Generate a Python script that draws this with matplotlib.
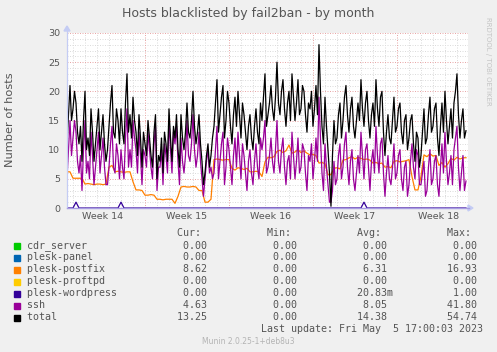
import numpy as np
import matplotlib
matplotlib.use("Agg")
import matplotlib.pyplot as plt
from matplotlib.patches import Rectangle, Polygon
from matplotlib.lines import Line2D

W, H = 497, 352

# plesk-postfix, one sample every 6 hours (0.25 day)
postfix = [6.2, 6.2, 5.1, 5.1, 5.1, 5.1, 4.1, 4.2, 4.1, 4.0, 4.1, 4.1, 4.0, 4.1,
           7.0, 7.3, 6.2, 6.3, 6.2, 6.1, 6.2, 6.2, 4.5, 3.1, 3.1, 3.0, 2.2, 2.2,
           2.3, 2.2, 1.5, 1.5, 1.4, 1.5, 1.5, 1.5, 0.8, 2.0, 3.6, 3.7, 3.6, 3.6,
           3.7, 3.6, 3.0, 3.0, 1.0, 1.0, 1.5, 8.3, 8.4, 8.3, 8.2, 8.3, 8.3, 6.8,
           6.5, 6.9, 6.8, 6.6, 6.8, 6.2, 6.2, 6.3, 6.2, 5.4, 7.9, 8.7, 8.6, 8.8,
           9.7, 9.9, 9.5, 9.8, 10.8, 9.4, 9.6, 10.0, 9.5, 9.8, 9.4, 9.1, 9.2, 9.0,
           7.7, 7.8, 7.6, 5.7, 5.7, 6.8, 6.9, 6.7, 8.2, 8.3, 8.6, 8.8, 8.4, 8.7,
           8.5, 8.3, 8.4, 8.2, 7.7, 7.8, 7.6, 7.7, 7.0, 7.1, 6.9, 8.0, 8.1, 7.9,
           8.0, 8.1, 8.3, 5.4, 3.1, 3.1, 5.4, 9.1, 8.8, 9.3, 8.9, 9.0, 7.3, 7.8,
           7.0, 7.6, 8.5, 8.2, 8.7, 8.4, 8.6, 8.62]

wordpress_spikes = [3, 18, 99]   # 6-hour samples where plesk-wordpress reaches 1

# ssh and total, one sample every 3 hours (0.125 day)
ssh = [5, 10, 15, 9, 12, 15, 13, 8, 6, 9, 3, 10, 15, 6, 8, 5,
       13, 9, 4, 7, 10, 13, 6, 9, 12, 7, 4, 4, 7, 11, 14, 7,
       6, 11, 9, 5, 10, 7, 5, 12, 17, 7, 10, 7, 15, 12, 10, 6,
       13, 9, 4, 10, 9, 7, 13, 10, 7, 5, 11, 14, 3, 7, 7, 10,
       4, 11, 9, 6, 15, 10, 6, 13, 11, 14, 8, 4, 12, 8, 6, 9,
       15, 9, 8, 11, 16, 10, 7, 9, 13, 8, 5, 2, 5, 8, 10, 6,
       7, 5, 6, 10, 14, 5, 8, 11, 13, 4, 7, 12, 10, 7, 4, 9,
       12, 7, 13, 9, 5, 11, 9, 6, 3, 8, 10, 6, 4, 8, 11, 7,
       5, 12, 10, 12, 15, 6, 7, 9, 12, 8, 6, 10, 15, 8, 6, 10,
       12, 7, 4, 8, 9, 5, 13, 9, 5, 8, 12, 6, 7, 11, 10, 6,
       3, 9, 8, 11, 5, 8, 12, 8, 19, 12, 6, 3, 11, 7, 4, 1,
       1, 3, 8, 4, 5, 9, 11, 5, 7, 11, 13, 7, 4, 8, 10, 5,
       3, 6, 9, 6, 13, 9, 5, 10, 11, 7, 3, 8, 10, 6, 14, 9,
       6, 11, 12, 6, 2, 6, 9, 5, 4, 7, 11, 5, 6, 9, 10, 5,
       3, 7, 8, 2, 4, 8, 11, 7, 5, 10, 9, 4, 4, 6, 8, 2,
       3, 7, 10, 4, 5, 8, 9, 4, 2, 7, 11, 6, 13, 8, 4, 6,
       9, 4, 10, 12, 14, 7, 3, 6, 9, 3, 4.63]

total = [11, 16, 21, 15, 17, 20, 18, 13, 11, 14, 8, 15, 20, 10, 12, 9,
         17, 13, 8, 11, 14, 17, 10, 13, 16, 11, 8, 10, 14, 18, 21, 13,
         12, 17, 15, 11, 17, 13, 11, 18, 23, 13, 16, 12, 19, 15, 13, 9,
         16, 12, 7, 13, 11, 9, 15, 12, 9, 7, 13, 16, 5, 9, 8, 12,
         6, 13, 11, 8, 17, 12, 8, 14, 12, 16, 10, 7, 16, 12, 10, 13,
         18, 13, 12, 15, 20, 14, 11, 13, 16, 11, 8, 4, 6, 9, 11, 7,
         9, 12, 14, 18, 22, 13, 16, 19, 21, 12, 15, 20, 18, 14, 11, 16,
         19, 14, 20, 16, 12, 18, 16, 13, 10, 14, 16, 12, 10, 14, 17, 13,
         11, 18, 15, 19, 23, 14, 16, 18, 21, 17, 15, 19, 25, 18, 16, 20,
         22, 17, 14, 18, 20, 15, 23, 19, 15, 18, 22, 16, 17, 21, 20, 16,
         13, 18, 17, 20, 14, 17, 21, 16, 28, 20, 14, 11, 19, 14, 10, 6,
         0.3, 9, 15, 11, 12, 16, 18, 12, 15, 19, 21, 16, 13, 17, 19, 14,
         12, 15, 18, 15, 22, 17, 14, 18, 20, 15, 12, 16, 18, 14, 22, 17,
         14, 19, 20, 13, 9, 13, 16, 12, 11, 15, 19, 13, 14, 17, 18, 13,
         11, 15, 16, 10, 12, 15, 16, 11, 8, 13, 12, 7, 9, 13, 17, 11,
         12, 16, 19, 13, 14, 17, 18, 12, 9, 14, 18, 13, 20, 15, 11, 14,
         17, 12, 18, 20, 23, 16, 12, 15, 17, 12, 13.25]

week_labels = ["Week 14", "Week 15", "Week 16", "Week 17", "Week 18"]
week_centers = [3, 10, 17, 24, 31]
week_bounds = [6.5, 13.5, 20.5, 27.5]

names = ["cdr_server", "plesk-panel", "plesk-postfix", "plesk-proftpd",
         "plesk-wordpress", "ssh", "total"]
colors = ["#00CC00", "#0066B3", "#FF8000", "#FFCC00", "#330099", "#990099", "#000000"]
cur = ["0.00 ", "0.00 ", "8.62 ", "0.00 ", "0.00 ", "4.63 ", "13.25 "]
mins = ["0.00 ", "0.00 ", "0.00 ", "0.00 ", "0.00 ", "0.00 ", "0.00 "]
avgs = ["0.00 ", "0.00 ", "6.31 ", "0.00 ", "20.83m", "8.05 ", "14.38 "]
maxs = ["0.00 ", "0.00 ", "16.93 ", "0.00 ", "1.00 ", "41.80 ", "54.74 "]

slow_days = np.arange(len(postfix)) * 0.25
fast_days = np.arange(len(total)) * 0.125
wordpress = np.zeros(len(postfix))
wordpress[wordpress_spikes] = 1.0


def px(x, y):
    return (x / W, 1 - y / H)


txt = "#555555"
fig = plt.figure(figsize=(W / 100, H / 100), dpi=100, facecolor="#F0F0F0")
ax = fig.add_axes([67 / W, (H - 208) / H, (468 - 67) / W, 175 / H])
ax.set_facecolor("white")
ax.set_xlim(0, 33.42)
ax.set_ylim(0, 30)
for s in ax.spines.values():
    s.set_visible(False)

# grid
dots = (0, (1, 1.5))
for d in np.arange(0.5, 33.5, 1.0):
    if d in week_bounds:
        continue
    ax.axvline(d, color="#dcdcdc", lw=0.72, ls=dots, zorder=0)
for d in week_bounds:
    ax.axvline(d, color="#e8a8a8", lw=0.72, ls=dots, zorder=0.5)
for v in range(1, 31):
    if v % 5:
        ax.axhline(v, color="#dcdcdc", lw=0.72, ls=dots, zorder=0)
    else:
        ax.axhline(v, color="#e8a8a8", lw=0.72, ls=dots, zorder=0.5)

ax.plot(slow_days, postfix, color="#FF8000", lw=0.9, zorder=3)
ax.plot(slow_days, wordpress, color="#330099", lw=0.9, zorder=3)
ax.plot(fast_days, ssh, color="#990099", lw=0.9, zorder=4)
ax.plot(fast_days, total, color="#000000", lw=0.9, zorder=5)

ax.set_yticks(range(0, 31, 5))
ax.set_yticklabels([str(v) for v in range(0, 31, 5)])
ax.set_xticks(week_centers)
ax.set_xticklabels(week_labels)
ax.tick_params(axis="both", length=0, labelsize=6.8, labelcolor=txt)
ax.tick_params(axis="y", pad=5)
ax.tick_params(axis="x", pad=2.6)

# axes with arrows
fig.add_artist(Line2D([67 / W, 67 / W], [px(0, 208)[1], px(0, 29)[1]],
                      color="#c4ccf4", lw=0.9, transform=fig.transFigure))
fig.add_artist(Polygon([px(64, 31), px(70, 31), px(67, 26)], closed=True,
                       color="#c4ccf4", transform=fig.transFigure))
fig.add_artist(Line2D([67 / W, 469 / W], [px(0, 208)[1]] * 2,
                      color="#a79de2", lw=1.0, transform=fig.transFigure, zorder=6))
fig.add_artist(Polygon([px(468, 205), px(468, 211), px(473, 208)], closed=True,
                       color="#c4ccf4", transform=fig.transFigure))

fig.text(*px(248, 13), "Hosts blacklisted by fail2ban - by month", ha="center",
         va="center", fontsize=9, color=txt)
fig.text(*px(10, 119.5), "Number of hosts", rotation=90, ha="center",
         va="center", fontsize=8.2, color=txt)
fig.text(*px(488, 61), "RRDTOOL / TOBI OETIKER", rotation=270, ha="center",
         va="center", fontsize=5, color="#c4c4c4")
fig.text(*px(248.5, 341), "Munin 2.0.25-1+deb8u3", ha="center", va="center",
         fontsize=5.5, color="#b4b4b4")

mono = dict(family="DejaVu Sans Mono", fontsize=7.2, color=txt, va="center", ha="left")
header = " " * 25 + "Cur:" + " " * 11 + "Min:" + " " * 11 + "Avg:" + " " * 11 + "Max:"
fig.text(*px(27, 233.5), header, **mono)
for k, name in enumerate(names):
    y = 245.5 + 12 * k
    fig.add_artist(Rectangle(px(14, y + 3), 6 / W, 6 / H, color=colors[k],
                             transform=fig.transFigure))
    row = name.ljust(25) + cur[k].rjust(6) + mins[k].rjust(15) + avgs[k].rjust(15) + maxs[k].rjust(15)
    fig.text(*px(27, y), row, **mono)
fig.text(*px(27, 329.5), " " * 39 + "Last update: Fri May  5 17:00:03 2023", **mono)

fig.savefig("out.png", dpi=100, facecolor=fig.get_facecolor())
